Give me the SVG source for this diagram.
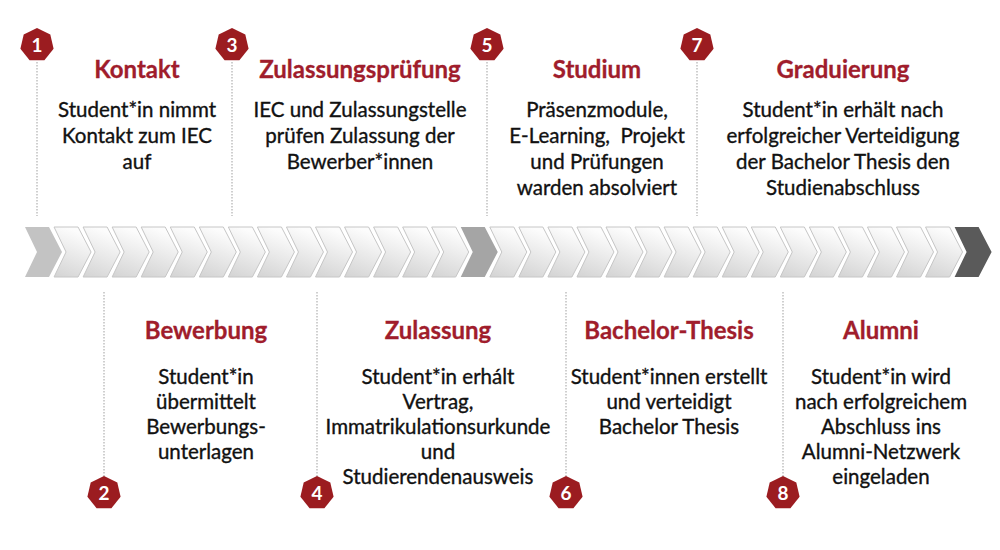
<svg xmlns="http://www.w3.org/2000/svg" width="1000" height="550" viewBox="0 0 1000 550">
<defs>
<linearGradient id="gl" x1="0.3" y1="0" x2="0" y2="1">
<stop offset="0" stop-color="#fcfcfc"/>
<stop offset="1" stop-color="#d3d3d3"/>
</linearGradient>
<path id="chev" d="M0,0 H24 L37,25 L24,50 H0 L12,25 Z"/>
<polygon id="hept" points="0,-17 13.3,-10.6 16.6,3.8 7.4,15.3 -7.4,15.3 -16.6,3.8 -13.3,-10.6"/>
</defs>
<style>
.t{font-family:Lato,"Liberation Sans",sans-serif;font-weight:700;font-size:24px;fill:#a01d2c;text-anchor:middle;stroke:#a01d2c;stroke-width:0.3}
.b{font-family:Lato,"Liberation Sans",sans-serif;font-size:20.5px;fill:#111;text-anchor:middle;stroke:#111;stroke-width:0.35}
.n{font-family:Lato,"Liberation Sans",sans-serif;font-weight:700;font-size:19px;fill:#fff;text-anchor:middle}
.hx{fill:#9b1c20}
.dl{stroke:#b0b0b0;stroke-width:1.2;stroke-dasharray:1.5 1.5;fill:none}
.cl{fill:url(#gl);stroke:#c6c6c6;stroke-width:1}
</style>
<rect width="1000" height="550" fill="#fff"/>
<g id="timeline">
<use href="#chev" x="25" y="227" fill="#c3c3c3"/>
<use href="#chev" x="54.05" y="227" class="cl"/>
<use href="#chev" x="83.1" y="227" class="cl"/>
<use href="#chev" x="112.15" y="227" class="cl"/>
<use href="#chev" x="141.2" y="227" class="cl"/>
<use href="#chev" x="170.25" y="227" class="cl"/>
<use href="#chev" x="199.3" y="227" class="cl"/>
<use href="#chev" x="228.35" y="227" class="cl"/>
<use href="#chev" x="257.4" y="227" class="cl"/>
<use href="#chev" x="286.45" y="227" class="cl"/>
<use href="#chev" x="315.5" y="227" class="cl"/>
<use href="#chev" x="344.55" y="227" class="cl"/>
<use href="#chev" x="373.6" y="227" class="cl"/>
<use href="#chev" x="402.65" y="227" class="cl"/>
<use href="#chev" x="431.7" y="227" class="cl"/>
<use href="#chev" x="460.75" y="227" fill="#a5a5a5"/>
<use href="#chev" x="489.8" y="227" class="cl"/>
<use href="#chev" x="518.85" y="227" class="cl"/>
<use href="#chev" x="547.9" y="227" class="cl"/>
<use href="#chev" x="576.95" y="227" class="cl"/>
<use href="#chev" x="606" y="227" class="cl"/>
<use href="#chev" x="635.05" y="227" class="cl"/>
<use href="#chev" x="664.1" y="227" class="cl"/>
<use href="#chev" x="693.15" y="227" class="cl"/>
<use href="#chev" x="722.2" y="227" class="cl"/>
<use href="#chev" x="751.25" y="227" class="cl"/>
<use href="#chev" x="780.3" y="227" class="cl"/>
<use href="#chev" x="809.35" y="227" class="cl"/>
<use href="#chev" x="838.4" y="227" class="cl"/>
<use href="#chev" x="867.45" y="227" class="cl"/>
<use href="#chev" x="896.5" y="227" class="cl"/>
<use href="#chev" x="925.55" y="227" class="cl"/>
<use href="#chev" x="954.6" y="227" fill="#5a5a5a"/>
</g>
<g id="connectors">
<line class="dl" x1="37" y1="62" x2="37" y2="216"/>
<line class="dl" x1="232" y1="62" x2="232" y2="216"/>
<line class="dl" x1="487" y1="62" x2="487" y2="216"/>
<line class="dl" x1="697" y1="62" x2="697" y2="216"/>
<line class="dl" x1="104" y1="292" x2="104" y2="477"/>
<line class="dl" x1="317" y1="292" x2="317" y2="477"/>
<line class="dl" x1="566" y1="292" x2="566" y2="477"/>
<line class="dl" x1="783" y1="292" x2="783" y2="477"/>
</g>
<g id="step1">
<use href="#hept" x="37" y="45" class="hx"/><text class="n" x="37" y="52">1</text>
<text class="t" x="137" y="78">Kontakt</text>
<text class="b" x="137" y="117">Student*in nimmt</text>
<text class="b" x="137" y="143">Kontakt zum IEC</text>
<text class="b" x="137" y="169">auf</text>
</g>
<g id="step2">
<use href="#hept" x="104" y="493" class="hx"/><text class="n" x="104" y="500">2</text>
<text class="t" x="206" y="339">Bewerbung</text>
<text class="b" x="206" y="384">Student*in</text>
<text class="b" x="206" y="409">übermittelt</text>
<text class="b" x="206" y="434">Bewerbungs-</text>
<text class="b" x="206" y="459">unterlagen</text>
</g>
<g id="step3">
<use href="#hept" x="232" y="45" class="hx"/><text class="n" x="232" y="52">3</text>
<text class="t" x="360" y="78">Zulassungsprüfung</text>
<text class="b" x="360" y="117">IEC und Zulassungstelle</text>
<text class="b" x="360" y="143">prüfen Zulassung der</text>
<text class="b" x="360" y="169">Bewerber*innen</text>
</g>
<g id="step4">
<use href="#hept" x="317" y="493" class="hx"/><text class="n" x="317" y="500">4</text>
<text class="t" x="438" y="339">Zulassung</text>
<text class="b" x="438" y="384">Student*in erhált</text>
<text class="b" x="438" y="409">Vertrag,</text>
<text class="b" x="438" y="434">Immatrikulationsurkunde</text>
<text class="b" x="438" y="459">und</text>
<text class="b" x="438" y="484">Studierendenausweis</text>
</g>
<g id="step5">
<use href="#hept" x="487" y="45" class="hx"/><text class="n" x="487" y="52">5</text>
<text class="t" x="597" y="78">Studium</text>
<text class="b" x="597" y="117">Präsenzmodule,</text>
<text class="b" x="597" y="143" xml:space="preserve">E-Learning,  Projekt</text>
<text class="b" x="597" y="169">und Prüfungen</text>
<text class="b" x="597" y="195">warden absolviert</text>
</g>
<g id="step6">
<use href="#hept" x="566" y="493" class="hx"/><text class="n" x="566" y="500">6</text>
<text class="t" x="669" y="339">Bachelor-Thesis</text>
<text class="b" x="669" y="384">Student*innen erstellt</text>
<text class="b" x="669" y="409">und verteidigt</text>
<text class="b" x="669" y="434">Bachelor Thesis</text>
</g>
<g id="step7">
<use href="#hept" x="697" y="45" class="hx"/><text class="n" x="697" y="52">7</text>
<text class="t" x="843" y="78">Graduierung</text>
<text class="b" x="843" y="117">Student*in erhält nach</text>
<text class="b" x="843" y="143">erfolgreicher Verteidigung</text>
<text class="b" x="843" y="169">der Bachelor Thesis den</text>
<text class="b" x="843" y="195">Studienabschluss</text>
</g>
<g id="step8">
<use href="#hept" x="783" y="493" class="hx"/><text class="n" x="783" y="500">8</text>
<text class="t" x="881" y="339">Alumni</text>
<text class="b" x="881" y="384">Student*in wird</text>
<text class="b" x="881" y="409">nach erfolgreichem</text>
<text class="b" x="881" y="434">Abschluss ins</text>
<text class="b" x="881" y="459">Alumni-Netzwerk</text>
<text class="b" x="881" y="484">eingeladen</text>
</g>
</svg>
